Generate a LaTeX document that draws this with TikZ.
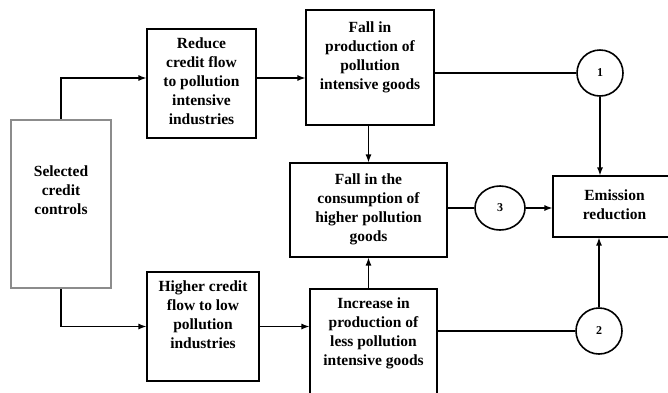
\documentclass[tikz,border=0pt]{standalone}
\usepackage{fontspec}
\setmainfont{Liberation Serif}
\usetikzlibrary{arrows.meta,shapes.geometric}

\begin{document}
\begin{tikzpicture}[x=1pt,y=-1pt,
  flowbox/.style={draw,line width=1.1pt,align=center,inner sep=0pt,text depth=4pt,
    font=\bfseries\fontsize{15.5}{19}\selectfont},
  numcirc/.style={draw,circle,line width=1.6pt,minimum size=46pt,inner sep=0pt,
    font=\bfseries\fontsize{12}{14}\selectfont},
  flow/.style={line width=1.3pt},
  >={Latex[length=8pt,width=6pt]}]
\path[use as bounding box,clip] (0,0) rectangle (668,392);
\node[flowbox,draw=black!45,line width=2.6pt,minimum width=100pt,minimum height=168pt,text depth=28pt] (sel) at (61,204) {Selected\\credit\\controls};
\node[flowbox,minimum width=109pt,minimum height=109pt] (red) at (201.5,83.5) {Reduce\\credit flow\\to pollution\\intensive\\industries};
\node[flowbox,minimum width=128pt,minimum height=115pt,text depth=24pt] (fprod) at (370,67.5) {Fall in\\production of\\pollution\\intensive goods};
\node[flowbox,minimum width=157pt,minimum height=94pt] (fcons) at (368.5,210) {Fall in the\\consumption of\\higher pollution\\goods};
\node[flowbox,minimum width=112pt,minimum height=109pt,text depth=23pt] (high) at (203,326.5) {Higher credit\\flow to low\\pollution\\industries};
\node[flowbox,minimum width=127pt,minimum height=131pt,text depth=45pt] (inc) at (373.5,354.5) {Increase in\\production of\\less pollution\\intensive goods};
\node[flowbox,minimum width=123pt,minimum height=61pt] (emis) at (614.5,206.5) {Emission\\reduction};
\node[numcirc] (c1) at (600,73) {1};
\node[numcirc,ellipse,minimum width=50pt,minimum height=44pt] (c3) at (500,208) {3};
\node[numcirc] (c2) at (599,331) {2};
\draw[flow,->] (sel.north) |- ([yshift=5.5pt]red.west);
\draw[flow,->] ([yshift=5.5pt]red.east) -- ([yshift=5.5pt]red.east -| fprod.west);
\draw[flow,->] (fcons.north |- fprod.south) -- (fcons.north);
\draw[flow,->] (sel.south) |- (high.west);
\draw[flow,->] (high.east) -- (high.east -| inc.west);
\draw[flow,->] (inc.north -| fcons.south) -- (fcons.south);
\foreach \src/\dst in {fprod/c1,fcons/c3,inc/c2}
  \draw[flow] (\dst.west -| \src.east) -- (\dst.west);
\draw[flow,->] (c1.south) -- (c1.south |- emis.north);
\draw[flow,->] (c3.east) -- (c3.east -| emis.west);
\draw[flow,->] (c2.north) -- (c2.north |- emis.south);
\end{tikzpicture}
\end{document}
